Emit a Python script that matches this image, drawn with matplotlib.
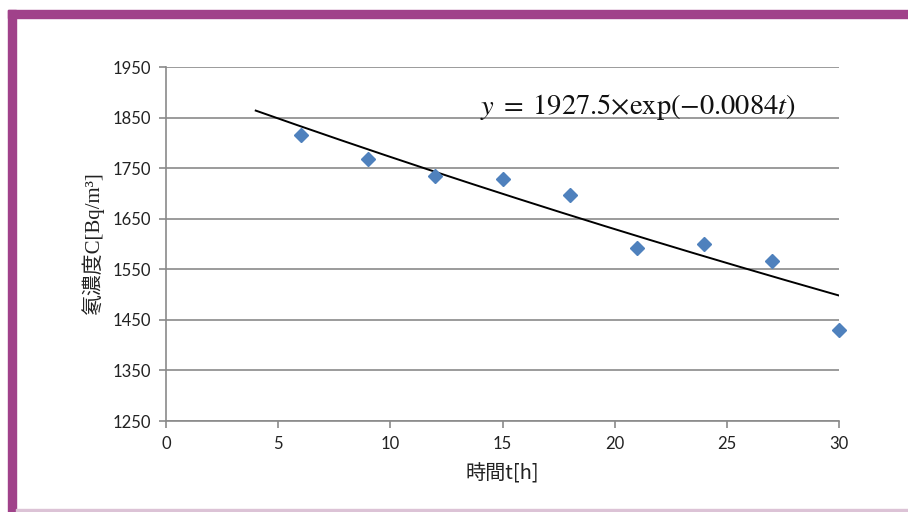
import numpy as np
import matplotlib
matplotlib.use("Agg")
import matplotlib.pyplot as plt
from matplotlib.patches import Rectangle

# -------------------------
# data
# -------------------------
t_hours = [6, 9, 12, 15, 18, 21, 24, 27, 30]
radon_conc = [1815, 1768, 1735, 1729, 1697, 1592, 1600, 1567, 1430]

# exponential trend shown on the chart: y = 1927.5 * exp(-0.0084 t)
fit_a = 1927.5
fit_k = -0.0084
fit_range = [4, 30]

x_ticks = [0, 5, 10, 15, 20, 25, 30]
y_ticks = [1250, 1350, 1450, 1550, 1650, 1750, 1850, 1950]

grid_col = "#8a8a8a"
marker_col = "#4f81bd"
frame_col = "#a0428a"

fig = plt.figure(figsize=(9.08, 5.12), dpi=100)
fig.patch.set_facecolor("white")

# purple slide frame (top and left bands, faint bottom line)
fig.patches.append(Rectangle((8 / 908, 1 - 18 / 512), 1, 8 / 512,
                             transform=fig.transFigure, color=frame_col, zorder=0))
fig.patches.append(Rectangle((8 / 908, 0), 8 / 908, 1 - 10 / 512,
                             transform=fig.transFigure, color=frame_col, zorder=0))
fig.patches.append(Rectangle((16 / 908, 0), 1, 3 / 512,
                             transform=fig.transFigure, color="#dcc3d6", zorder=0))

ax = fig.add_axes([166 / 908, 1 - 421 / 512, (839 - 166) / 908, (421 - 67) / 512])

# trend line
tt = np.linspace(fit_range[0], fit_range[1], 200)
ax.plot(tt, fit_a * np.exp(fit_k * tt), color="black", lw=1.4, zorder=3)

# measured points
ax.plot(t_hours, radon_conc, linestyle="none", marker="D", markersize=7.5,
        color=marker_col, markeredgecolor=marker_col, zorder=4, clip_on=False)

ax.set_xlim(0, 30)
ax.set_ylim(1250, 1950)
ax.set_xticks(x_ticks)
ax.set_yticks(y_ticks)

ax.grid(axis="y", color=grid_col, lw=1.2)
ax.set_axisbelow(True)
for side in ["top", "right"]:
    ax.spines[side].set_visible(False)
for side in ["left", "bottom"]:
    ax.spines[side].set_color(grid_col)
    ax.spines[side].set_linewidth(1.2)
ax.tick_params(axis="both", color=grid_col, width=1.2, length=5,
               labelsize=12, pad=6)
for lab in ax.get_xticklabels() + ax.get_yticklabels():
    lab.set_fontfamily("Lato")
    lab.set_color("#222222")

ax.set_xlabel("時間t[h]", fontsize=14.5, family=["Noto Sans CJK JP", "DejaVu Sans"],
              color="#222222", labelpad=8)
ax.set_ylabel("氡濃度C[Bq/m³]", fontsize=15,
              family=["Liberation Serif", "Noto Sans CJK JP", "Noto Sans CJK SC"],
              color="#222222", labelpad=6)

ax.text(0.467, 0.888, r"$y\;=\;1927.5{\times}\mathrm{exp}(-0.0084t)$",
        transform=ax.transAxes, fontsize=20.5, color="#111111",
        ha="left", va="center", math_fontfamily="stix")

fig.savefig("out.png", dpi=100, facecolor="white")
